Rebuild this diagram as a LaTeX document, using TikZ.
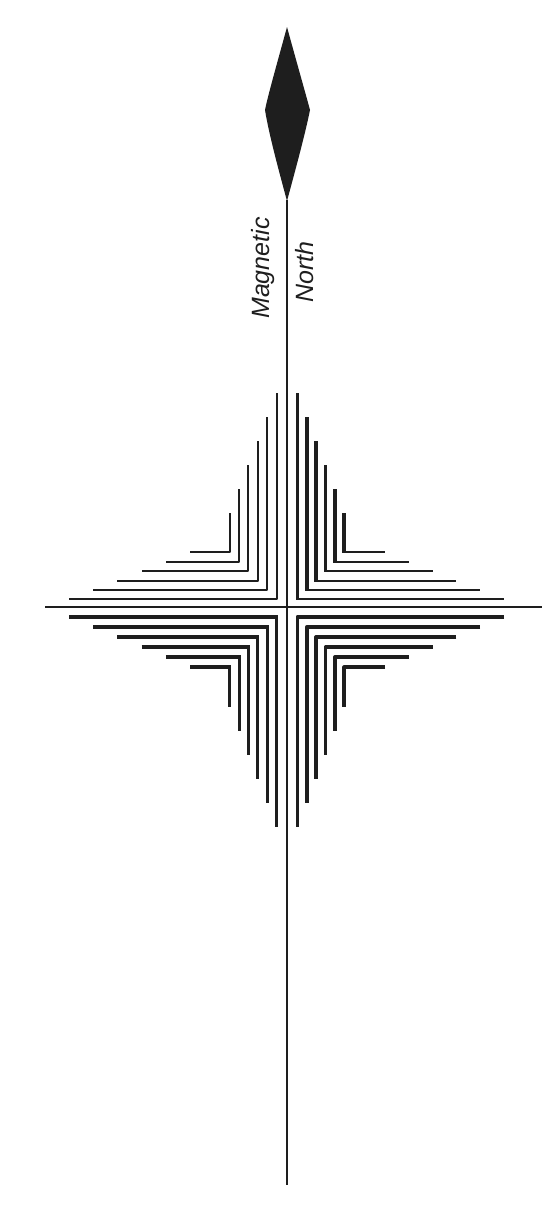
\documentclass[tikz,border=0pt]{standalone}
\usepackage{fontspec}
\newfontfamily\labelfont{Liberation Sans}
\definecolor{ink}{HTML}{1E1E1E}
\begin{document}
\begin{tikzpicture}[x=1pt,y=-1pt,
  axis/.style={draw=ink,line width=1.7pt},
  thinl/.style={draw=ink,line width=2.0pt},
  medl/.style={draw=ink,line width=2.9pt},
  thickl/.style={draw=ink,line width=3.7pt},
  lbl/.style={rotate=90,anchor=base,inner sep=0pt,text=ink,font=\labelfont\itshape\fontsize{25}{25}\selectfont}]
\useasboundingbox (0,0) rectangle (545,1211);
\def\cx{287}
\def\cy{607.3}
% needle
\fill[ink] (287,27) .. controls (296,60) and (306,95) .. (310,110)
  .. controls (305,135) and (294,175) .. (287,201)
  .. controls (280,175) and (269,135) .. (265,110)
  .. controls (268,95) and (278,60) .. cycle;
% axes
\coordinate (ntop) at (287,200);
\coordinate (nbot) at (287,1185);
\coordinate (wend) at (45,\cy);
\coordinate (eend) at (542,\cy);
\draw[axis] (ntop) -- (nbot);
\draw[axis] (wend) -- (eend);
% L shapes
\foreach \i in {0,...,5}{
  \pgfmathsetmacro{\dx}{10.5+9.35*\i}
  \pgfmathsetmacro{\dyu}{8+9.4*\i}
  \pgfmathsetmacro{\dyl}{9.5+10.1*\i}
  \pgfmathsetmacro{\Ru}{214-24*\i}
  \pgfmathsetmacro{\Rl}{220-24.1*\i}
  \pgfmathsetmacro{\Rw}{218-24.2*\i}
  \pgfmathsetmacro{\Re}{217-23.8*\i}
  % upper-left: thin
  \draw[thinl,line join=round] (\cx-\dx,\cy-\Ru) -- (\cx-\dx,\cy-\dyu) -- (\cx-\Rw,\cy-\dyu);
  % upper-right: thick vertical, thin horizontal
  \draw[thinl] (\cx+\dx,\cy-\dyu) -- (\cx+\Re,\cy-\dyu);
  \draw[thickl] (\cx+\dx,\cy-\Ru) -- (\cx+\dx,\cy-\dyu+1);
  % lower-left: medium vertical, thick horizontal
  \draw[medl] (\cx-\dx,\cy+\dyl) -- (\cx-\dx,\cy+\Rl);
  \draw[thickl] (\cx-\Rw,\cy+\dyl) -- (\cx-\dx+1.45,\cy+\dyl);
  % lower-right: thick
  \draw[thickl,line join=round] (\cx+\Re,\cy+\dyl) -- (\cx+\dx,\cy+\dyl) -- (\cx+\dx,\cy+\Rl);
}
% labels
\node[lbl] (mag) at (269.5,268) {Magnetic};
\node[lbl] (nor) at (313,272) {North};
\end{tikzpicture}
\end{document}
